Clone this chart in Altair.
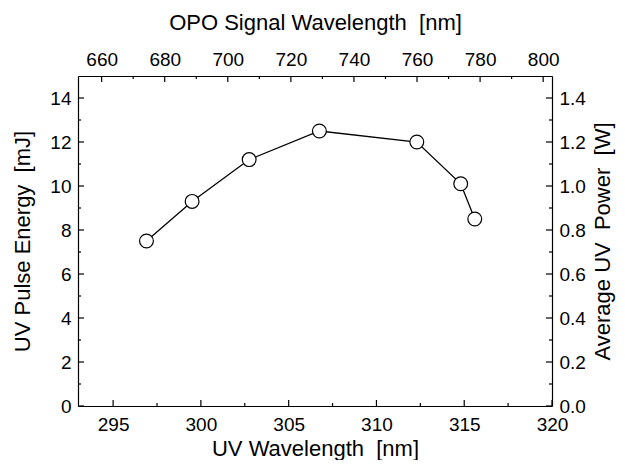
import altair as alt
import pandas as pd

# ---- data ----
uv_wavelength = [296.9, 299.5, 302.75, 306.75, 312.3, 314.8, 315.6]
pulse_energy = [7.5, 9.3, 11.2, 12.5, 12.0, 10.1, 8.5]

uv_major = [295, 300, 305, 310, 315, 320]
uv_minor = [297.5, 302.5, 307.5, 312.5, 317.5]
opo_major = [660, 680, 700, 720, 740, 760, 780, 800]
opo_minor = [670, 690, 710, 730, 750, 770, 790]
energy_major = [0, 2, 4, 6, 8, 10, 12, 14]
energy_minor = [1, 3, 5, 7, 9, 11, 13]
power_major = [0.0, 0.2, 0.4, 0.6, 0.8, 1.0, 1.2, 1.4]
power_minor = [0.1, 0.3, 0.5, 0.7, 0.9, 1.1, 1.3]

W, H = 474, 330
MAJ, MIN = 6, 3
FONT = "Liberation Sans"
SP = " \u00a0"  # double space that survives SVG whitespace collapsing

df = pd.DataFrame({"uv": uv_wavelength, "energy": pulse_energy})

common_axis = dict(
    ticks=False, grid=False, labelFlush=False, labelOverlap=False, labelBound=False,
    domainColor="black", domainWidth=1.2,
    labelFont=FONT, labelFontSize=19, labelColor="black",
    titleFont=FONT, titleFontSize=22, titleFontWeight="normal", titleColor="black",
)

x_uv_scale = alt.Scale(domain=[293, 320], nice=False, zero=False)
x_uv_axis = alt.Axis(orient="bottom", values=uv_major, title=f"UV Wavelength{SP}[nm]",
                     labelPadding=9, titlePadding=4, **common_axis)
y_en_scale = alt.Scale(domain=[0, 15], nice=False, zero=False)
y_en_axis = alt.Axis(orient="left", values=energy_major, title=f"UV Pulse Energy{SP}[mJ]",
                     labelPadding=7, titlePadding=15, **common_axis)

x_opo_scale = alt.Scale(domain=[652.5, 802.8], nice=False, zero=False)
x_opo_axis = alt.Axis(orient="top", values=opo_major, title=f"OPO Signal Wavelength{SP}[nm]",
                      labelPadding=7, titlePadding=16, **common_axis)
y_pw_scale = alt.Scale(domain=[0, 1.5], nice=False, zero=False)
y_pw_axis = alt.Axis(orient="right", values=power_major, format=".1f",
                     title=f"Average UV{SP}Power{SP}[W]", titleAngle=270, titleBaseline="top",
                     labelPadding=7, titlePadding=7, **common_axis)


def X(field, scale, axis):
    return alt.X(f"{field}:Q", scale=scale, axis=axis)


def Y(field, scale, axis):
    return alt.Y(f"{field}:Q", scale=scale, axis=axis)


# ---- layer A: data + bottom/left ticks (UV scale, energy scale) ----
line = alt.Chart(df).mark_line(color="black", strokeWidth=1.3).encode(
    x=X("uv", x_uv_scale, x_uv_axis), y=Y("energy", y_en_scale, y_en_axis))
points = alt.Chart(df).mark_point(shape="circle", size=190, filled=True, fill="white",
                                  stroke="black", strokeWidth=1.2, opacity=1).encode(
    x=X("uv", x_uv_scale, x_uv_axis), y=Y("energy", y_en_scale, y_en_axis))


def xticks(vals, length, scale, axis, top=False):
    d = pd.DataFrame({"v": vals})
    if top:
        yy, yy2 = alt.value(0), alt.value(length)
    else:
        yy, yy2 = alt.value(H), alt.value(H - length)
    return alt.Chart(d).mark_rule(color="black", strokeWidth=1.2).encode(
        x=X("v", scale, axis), y=yy, y2=yy2)


def yticks(vals, length, scale, axis, right=False):
    d = pd.DataFrame({"v": vals})
    if right:
        xx, xx2 = alt.value(W), alt.value(W - length)
    else:
        xx, xx2 = alt.value(0), alt.value(length)
    return alt.Chart(d).mark_rule(color="black", strokeWidth=1.2).encode(
        y=Y("v", scale, axis), x=xx, x2=xx2)


layer_a = alt.layer(
    xticks(uv_major, MAJ, x_uv_scale, x_uv_axis),
    xticks(uv_minor, MIN, x_uv_scale, x_uv_axis),
    yticks(energy_major, MAJ, y_en_scale, y_en_axis),
    yticks(energy_minor, MIN, y_en_scale, y_en_axis),
    line, points,
)

layer_b = alt.layer(
    xticks(opo_major, MAJ, x_opo_scale, x_opo_axis, top=True),
    xticks(opo_minor, MIN, x_opo_scale, x_opo_axis, top=True),
)

layer_c = alt.layer(
    yticks(power_major, MAJ, y_pw_scale, y_pw_axis, right=True),
    yticks(power_minor, MIN, y_pw_scale, y_pw_axis, right=True),
)

chart = alt.layer(layer_a, layer_b, layer_c).resolve_scale(
    x="independent", y="independent"
).properties(
    width=W, height=H,
    autosize=alt.AutoSizeParams(type="none"),
    padding={"left": 70, "top": 68, "right": 65, "bottom": 54},
).configure_view(stroke="black", strokeWidth=1.2).configure(background="white")

chart.save("out.html", embed_options={"renderer": "svg", "actions": False})
